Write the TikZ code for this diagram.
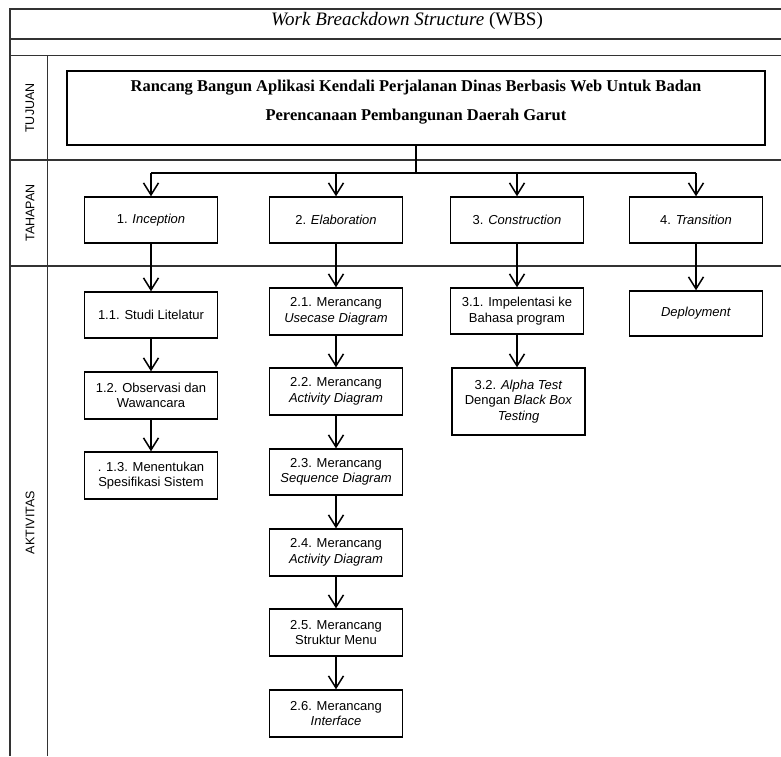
\documentclass[tikz,border=0pt]{standalone}
\usepackage{fontspec}
\setmainfont{Liberation Serif}
\setsansfont{Liberation Sans}
\usetikzlibrary{arrows.meta}
\begin{document}
\begin{tikzpicture}[x=1pt,y=-1pt,
  frame/.style={line width=1.3pt, draw=black!80},
  box/.style={draw, line width=1.4pt, align=center, inner sep=0pt,
    font=\sffamily\fontsize{13}{15.5}\selectfont, minimum width=133pt},
  arr/.style={line width=1.5pt, -{Straight Barb[length=12pt,width=15pt,line width=1.5pt]}},
  conn/.style={line width=1.5pt},
  side/.style={rotate=90, font=\sffamily\fontsize{12.5}{14}\selectfont}]
\useasboundingbox (0,0) rectangle (781,756);
% frame
\draw[frame] (781,9) -- (10,9) -- (10,756);
\draw[frame] (10,39) -- (781,39);
\draw[frame] (10,55.5) -- (781,55.5);
\draw[frame] (47.5,55.5) -- (47.5,756);
\draw[frame] (10,160) -- (781,160);
\draw[frame] (10,266) -- (781,266);
% title and side labels
\node (title) at (407,21) {\fontsize{19}{21}\selectfont\textit{Work Breackdown Structure} (WBS)};
\node[side] (tujuan) at (30,108) {TUJUAN};
\node[side] (tahapan) at (30,213) {TAHAPAN};
\node[side] (aktivitas) at (30,522.5) {AKTIVITAS};
% goal
\node[draw, line width=1.4pt, minimum width=698pt, minimum height=74pt] (main) at (416,108) {};
\node[align=center, font=\rmfamily\bfseries\fontsize{16.5}{29}\selectfont] (mainlabel) at (416,102.5)
  {Rancang Bangun Aplikasi Kendali Perjalanan Dinas Berbasis Web Untuk Badan\\Perencanaan Pembangunan Daerah Garut};
% phases
\node[box, minimum height=46pt] (p1) at (151,220) {1. \textit{Inception}};
\node[box, minimum height=46pt] (p2) at (336,220) {2. \textit{Elaboration}};
\node[box, minimum height=46pt] (p3) at (517,220) {3. \textit{Construction}};
\node[box, minimum height=46pt] (p4) at (696,220) {4. \textit{Transition}};
% activities
\node[box, minimum height=46pt] (a11) at (151,315) {1.1. Studi Litelatur};
\node[box, minimum height=47pt] (a12) at (151,395.5) {1.2. Observasi dan\\Wawancara};
\node[box, minimum height=47pt] (a13) at (151,475.5) {. 1.3. Menentukan\\Spesifikasi Sistem};
\node[box, minimum height=47pt] (a21) at (336,311.5) {2.1. Merancang\\\textit{Usecase Diagram}};
\node[box, minimum height=47pt] (a22) at (336,391.5) {2.2. Merancang\\\textit{Activity Diagram}};
\node[box, minimum height=46pt] (a23) at (336,472) {2.3. Merancang\\\textit{Sequence Diagram}};
\node[box, minimum height=47pt] (a24) at (336,552.5) {2.4. Merancang\\\textit{Activity Diagram}};
\node[box, minimum height=47pt] (a25) at (336,632.5) {2.5. Merancang\\Struktur Menu};
\node[box, minimum height=47pt] (a26) at (336,713.5) {2.6. Merancang\\\textit{Interface}};
\node[box, minimum height=46pt] (a31) at (517,311) {3.1. Impelentasi ke\\Bahasa program};
\node[box, minimum height=67pt] (a32) at (518.5,401.5) {3.2. \textit{Alpha Test}\\Dengan \textit{Black Box}\\\textit{Testing}};
\node[box, minimum height=45pt] (dep) at (696,313.5) {\textit{Deployment}};
% connectors
\coordinate (j) at (416,173);
\draw[conn] (main.south) -- (j);
\draw[conn] (p1.north |- j) -- (p4.north |- j);
\foreach \p in {p1,p2,p3,p4} \draw[arr] (\p.north |- j) -- (\p.north);
\draw[arr] (p1.south) -- (a11.north);
\draw[arr] (a11.south) -- (a12.north);
\draw[arr] (a12.south) -- (a13.north);
\draw[arr] (p2.south) -- (a21.north);
\draw[arr] (a21.south) -- (a22.north);
\draw[arr] (a22.south) -- (a23.north);
\draw[arr] (a23.south) -- (a24.north);
\draw[arr] (a24.south) -- (a25.north);
\draw[arr] (a25.south) -- (a26.north);
\draw[arr] (p3.south) -- (a31.north);
\draw[arr] (a31.south) -- (a31.south |- a32.north);
\draw[arr] (p4.south) -- (dep.north);
\end{tikzpicture}
\end{document}
